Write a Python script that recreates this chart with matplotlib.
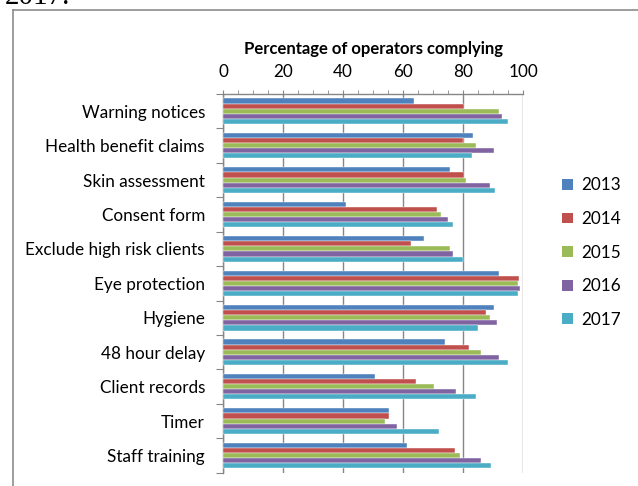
import matplotlib
matplotlib.use("Agg")
import matplotlib.pyplot as plt
import numpy as np
from matplotlib.patches import Patch
from matplotlib.lines import Line2D

categories = ["Warning notices", "Health benefit claims", "Skin assessment",
              "Consent form", "Exclude high risk clients", "Eye protection",
              "Hygiene", "48 hour delay", "Client records", "Timer", "Staff training"]
years = ["2013", "2014", "2015", "2016", "2017"]
v2013 = [63.6, 83.2, 75.7, 40.8, 66.9, 92.0, 90.2, 73.9, 50.6, 55.3, 61.3]
v2014 = [80.4, 80.0, 80.4, 71.1, 62.7, 98.6, 87.5, 81.8, 64.2, 55.3, 77.1]
v2015 = [92.0, 84.1, 80.8, 72.5, 75.7, 98.1, 88.8, 86.0, 70.1, 53.8, 79.0]
v2016 = [93.0, 90.2, 88.8, 74.8, 76.7, 99.0, 91.1, 92.0, 77.6, 58.0, 86.0]
v2017 = [94.8, 82.8, 90.7, 76.7, 80.0, 98.1, 85.0, 94.8, 84.1, 72.0, 89.2]
series = [v2013, v2014, v2015, v2016, v2017]
colors = ["#4F81BD", "#C0504D", "#9BBB59", "#8064A2", "#4BACC6"]
xticks = [0, 20, 40, 60, 80, 100]

font = "Lato"
plt.rcParams["font.family"] = [font, "DejaVu Sans"]

W, H = 638, 486
fig = plt.figure(figsize=(W / 100, H / 100), dpi=100)
ax = fig.add_axes([223 / W, 1 - 472.7 / H, 300.3 / W, (472.7 - 94) / H])

n = len(categories)
y = np.arange(n)
bh = 0.148
for i, (vals, c) in enumerate(zip(series, colors)):
    ax.barh(y + (i - 2) * bh, vals, height=bh, color=c, label=years[i],
            edgecolor="white", linewidth=0.3, zorder=3)

ax.set_xlim(0, 100)
ax.set_ylim(n - 0.5, -0.5)
ax.xaxis.tick_top()
ax.xaxis.set_label_position("top")
ax.set_xticks(xticks)
ax.set_xticks(np.arange(0, 101, 5), minor=True)
ax.set_xticklabels([str(t) for t in xticks], fontsize=12.3)
ax.set_xlabel("Percentage of operators complying", fontsize=12,
              fontweight="bold", labelpad=7)
ax.tick_params(axis="x", which="major", length=3, color="#868686", pad=7)
ax.tick_params(axis="x", which="minor", length=3, color="#868686")

ax.set_yticks(np.arange(-0.5, n, 1))
ax.set_yticklabels([])
ax.set_yticks(y, minor=True)
ax.set_yticklabels(categories, minor=True, fontsize=12.3)
ax.tick_params(axis="y", which="major", length=5, color="#868686")
ax.tick_params(axis="y", which="minor", length=0, pad=13)

ax.grid(axis="x", which="major", color="#868686", linewidth=1.0, zorder=0)
for s in ["right", "bottom"]:
    ax.spines[s].set_visible(False)
for s in ["top", "left"]:
    ax.spines[s].set_color("#868686")
    ax.spines[s].set_linewidth(1.0)

handles = [Patch(facecolor=c, edgecolor="none") for c in colors]
fig.legend(handles, years, loc="upper left",
           bbox_to_anchor=(547 / W, 1 - 162 / H), frameon=False,
           fontsize=12.3, handlelength=0.6, handleheight=0.6,
           handletextpad=0.5, labelspacing=1.03)

# outer chart frame
fig.add_artist(Line2D([13 / W, 13 / W], [0, 1 - 10 / H], color="#8c8c8c",
                      linewidth=1.2, transform=fig.transFigure))
fig.add_artist(Line2D([13 / W, 1], [1 - 10 / H, 1 - 10 / H], color="#8c8c8c",
                      linewidth=1.2, transform=fig.transFigure))
fig.text(5 / W, 1 - 3.5 / H, "2017.", family="Liberation Serif", fontsize=21,
         va="baseline", ha="left")

fig.savefig("out.png", dpi=100)
